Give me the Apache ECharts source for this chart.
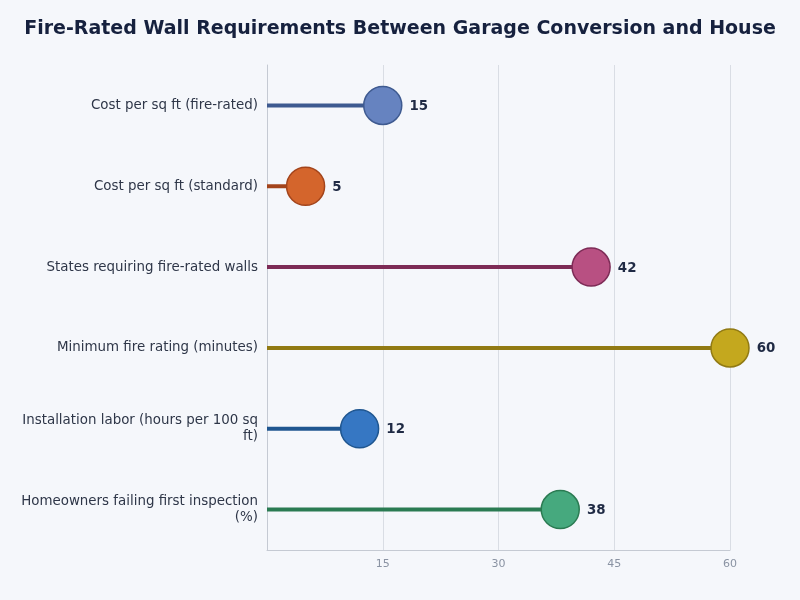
<!DOCTYPE html>
<html><head><meta charset="utf-8">
<script src="https://cdn.jsdelivr.net/npm/echarts@6/dist/echarts.min.js"></script>
<style>html,body{margin:0;padding:0;background:#f5f7fb;}#c{width:800px;height:600px;}</style>
</head><body><div id="c"></div>
<script>
const categories = [
  "Cost per sq ft (fire-rated)",
  "Cost per sq ft (standard)",
  "States requiring fire-rated walls",
  "Minimum fire rating (minutes)",
  "Installation labor (hours per 100 sq ft)",
  "Homeowners failing first inspection (%)"
];
const values = [15, 5, 42, 60, 12, 38];
const fillColors = ["#6683c0", "#d4652c", "#b85082", "#c4a81e", "#3677c3", "#46a97e"];
const lineColors = ["#3e5a90", "#a3441b", "#7d2b56", "#917a13", "#1f5690", "#2a7b52"];
const xTicks = [0, 15, 30, 45, 60];

const labelFont = '13.4px "DejaVu Sans"';
const ctx = document.createElement('canvas').getContext('2d');
ctx.font = labelFont;
function wrap(text, maxW) {
  const words = text.split(' ');
  const lines = [];
  let cur = '';
  for (const w of words) {
    const t = cur ? cur + ' ' + w : w;
    if (cur && ctx.measureText(t).width > maxW) { lines.push(cur); cur = w; }
    else cur = t;
  }
  if (cur) lines.push(cur);
  return lines.join('\n');
}

const chart = echarts.init(document.getElementById('c'));
chart.setOption({
  backgroundColor: '#f5f7fb',
  textStyle: { fontFamily: 'DejaVu Sans' },
  title: {
    text: 'Fire-Rated Wall Requirements Between Garage Conversion and House',
    left: 'center', top: 15,
    textStyle: { fontSize: 19, fontWeight: 'bold', color: '#16213e', fontFamily: 'DejaVu Sans' }
  },
  grid: { left: 267, right: 70, top: 65, bottom: 50 },
  xAxis: {
    type: 'value', min: xTicks[0], max: xTicks[xTicks.length - 1], interval: 15,
    axisLine: { show: true, lineStyle: { color: '#c5cad3', width: 1 } },
    axisTick: { show: false },
    axisLabel: { showMinLabel: false, color: '#8a93a3', fontSize: 11, margin: 9 },
    splitLine: { show: true, lineStyle: { color: '#d9dde4', width: 1 } }
  },
  yAxis: {
    type: 'category', data: categories, inverse: true,
    axisLine: { show: true, lineStyle: { color: '#c5cad3', width: 1 } },
    axisTick: { show: false },
    axisLabel: { color: '#2e3648', fontSize: 13.4, margin: 9, lineHeight: 16, align: 'right',
      padding: [2, 0, 0, 0],
      formatter: v => wrap(v, 242) },
    splitLine: { show: false }
  },
  series: [
    {
      type: 'bar', barWidth: 4, silent: true,
      data: values.map((v, i) => ({ value: v, itemStyle: { color: lineColors[i] } })),
      z: 2
    },
    {
      type: 'scatter', symbol: 'circle', symbolSize: 38,
      data: values.map((v, i) => ({ value: [v, categories[i]], itemStyle: { color: fillColors[i], borderColor: lineColors[i], borderWidth: 1.5, opacity: 1 } })),
      label: { show: true, position: 'right', distance: 7, offset: [0, 1], formatter: p => p.value[0], fontWeight: 'bold', fontSize: 13.4, color: '#1f2a44' },
      z: 3
    }
  ]
});
</script></body></html>
